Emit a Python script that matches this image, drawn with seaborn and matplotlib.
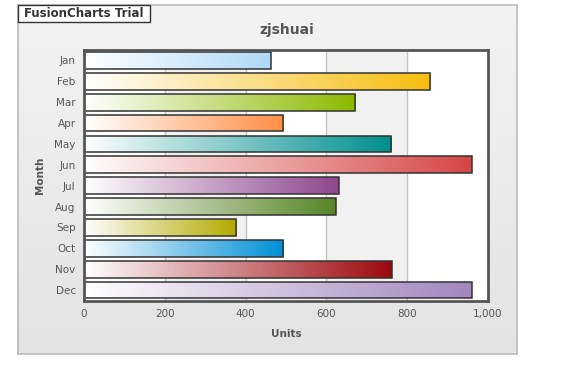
import numpy as np
import pandas as pd
import matplotlib
matplotlib.use("Agg")
import matplotlib.pyplot as plt
import matplotlib.colors as mcolors
from matplotlib.patches import Rectangle
import seaborn as sns

months = ["Jan", "Feb", "Mar", "Apr", "May", "Jun", "Jul", "Aug", "Sep", "Oct", "Nov", "Dec"]
units = [462, 857, 672, 493, 761, 960, 630, 623, 377, 493, 762, 960]
colors = ["#AFD8F8", "#F6BD0F", "#8BBA00", "#FF8E46", "#008E8E", "#D64646",
          "#8E468E", "#588526", "#B3AA00", "#008ED6", "#9D080D", "#A186BE"]
xticks = [0, 200, 400, 600, 800, 1000]
xticklabels = ["0", "200", "400", "600", "800", "1,000"]

df = pd.DataFrame({"Month": months, "Units": units})

sns.set_style("white")
plt.rcParams["font.family"] = ["DejaVu Sans"]

W, H = 578, 371
fig = plt.figure(figsize=(W / 100, H / 100), dpi=100)
fig.patch.set_facecolor("white")

# panel background with vertical gradient
bg = fig.add_axes([18 / W, 1 - 354 / H, (517 - 18) / W, (354 - 5) / H])
grad = np.linspace(0, 1, 256).reshape(-1, 1)
c_top = np.array(mcolors.to_rgb("#f3f3f3"))
c_bot = np.array(mcolors.to_rgb("#e3e3e3"))
img = c_top[None, None, :] * (1 - grad[:, :, None]) + c_bot[None, None, :] * grad[:, :, None]
bg.imshow(img, aspect="auto", extent=(0, 1, 0, 1))
bg.set_xticks([]); bg.set_yticks([])
for s in bg.spines.values():
    s.set_color("#bbbbbb"); s.set_linewidth(1.2)
bg.set_zorder(0)

ax = fig.add_axes([84 / W, 1 - 300.5 / H, (488 - 84) / W, (300.5 - 50) / H])
ax.set_zorder(1)
ax.set_facecolor("white")

sns.barplot(data=df, x="Units", y="Month", hue="Month", palette=colors,
            orient="h", width=0.8, legend=False, ax=ax, saturation=1,
            edgecolor="#333333", linewidth=1.1, zorder=3)

ax.set_xlim(0, 1000)
ylim = ax.get_ylim()

# alternating bands and grid
for a, b in [(200, 400), (600, 800)]:
    ax.axvspan(a, b, color="#f1f1f1", zorder=0, lw=0)
for x in [200, 400, 600, 800]:
    ax.axvline(x, color="#c2c2c2", lw=1, zorder=1)

# gradient fill of bars
for patch, col in zip(ax.patches[:len(months)], colors):
    bb = patch.get_bbox()
    x0, x1, y0, y1 = bb.x0, bb.x1, bb.y0, bb.y1
    c = np.array(mcolors.to_rgb(col))
    t = np.linspace(0, 1, 256)[None, :, None]
    g = np.ones(3)[None, None, :] * (1 - t) + c[None, None, :] * t
    im = ax.imshow(g, aspect="auto", extent=(x0, x1, min(y0, y1), max(y0, y1)),
                   zorder=2, interpolation="bilinear")
    im.set_clip_path(patch)
    patch.set_facecolor("none")

ax.set_xlim(0, 1000)
ax.set_ylim(ylim)
ax.set_aspect("auto")

for s in ax.spines.values():
    s.set_color("#555555"); s.set_linewidth(2)
    s.set_zorder(5)

ax.set_xticks(xticks)
ax.set_xticklabels(xticklabels)
ax.tick_params(axis="both", length=0, labelsize=7.5, colors="#555555", pad=6)
ax.set_xlabel("Units", fontsize=7.5, fontweight="bold", color="#555555", labelpad=7)
ax.set_ylabel("Month", fontsize=7.5, fontweight="bold", color="#555555", labelpad=7)

fig.text(287 / W, 1 - 30 / H, "zjshuai", ha="center", va="center",
         fontsize=10, fontweight="bold", color="#555555")

# trial label box
fig.add_artist(Rectangle((18 / W, 1 - 22 / H), (150 - 18) / W, (22 - 5) / H,
                         transform=fig.transFigure, facecolor="white",
                         edgecolor="#333333", lw=1, zorder=10))
fig.text(84 / W, 1 - 13.5 / H, "FusionCharts Trial", ha="center", va="center",
         fontsize=8.5, fontweight="bold", color="#333333", zorder=11)

fig.savefig("out.png", dpi=100)
